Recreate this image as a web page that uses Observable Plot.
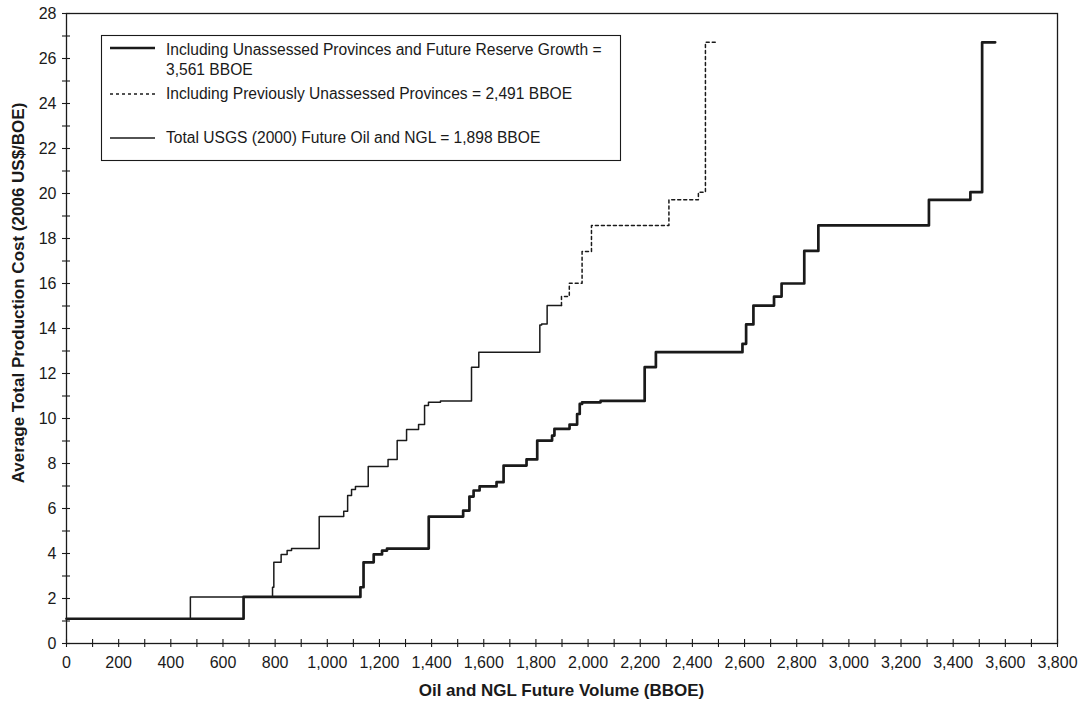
<!DOCTYPE html>
<html>
<head>
<meta charset="utf-8">
<script src="https://cdn.jsdelivr.net/npm/d3@7"></script>
<script src="https://cdn.jsdelivr.net/npm/@observablehq/plot@0.6"></script>
<style>
  html, body { margin: 0; padding: 0; background: #fff; }
  #chart { width: 1091px; height: 706px; }
  svg { font-family: "Liberation Sans", Arial, Helvetica, sans-serif; }
</style>
</head>
<body>
<div id="chart"></div>
<script>
// ---- Data (step curves: volume breakpoints in BBOE, cost level in 2006 US$/BOE) ----
// Including Unassessed Provinces and Future Reserve Growth = 3,561 BBOE
const growthVolume = [0, 679, 1127, 1139, 1178, 1210, 1229, 1389, 1521, 1545, 1561, 1584, 1649, 1676, 1764, 1805, 1862, 1871, 1929, 1958, 1968, 1977, 2048, 2217, 2260, 2592, 2606, 2634, 2713, 2742, 2829, 2883, 3307, 3466, 3511, 3561];
const growthCost   = [1.1, 2.07, 2.5, 3.61, 3.96, 4.13, 4.22, 5.64, 5.91, 6.53, 6.8, 6.98, 7.17, 7.91, 8.18, 9.02, 9.24, 9.54, 9.73, 10.2, 10.65, 10.72, 10.78, 12.28, 12.95, 13.32, 14.18, 15.02, 15.42, 16.0, 17.45, 18.58, 19.72, 20.06, 26.72, 26.72];

// Total USGS (2000) Future Oil and NGL = 1,898 BBOE
const usgsVolume = [0, 475, 790, 795, 823, 846, 863, 969, 1063, 1078, 1093, 1108, 1157, 1233, 1268, 1304, 1350, 1373, 1388, 1434, 1553, 1581, 1815, 1822, 1843, 1898];
const usgsCost   = [1.1, 2.07, 2.5, 3.61, 3.96, 4.13, 4.22, 5.64, 5.88, 6.58, 6.84, 6.98, 7.87, 8.18, 9.02, 9.51, 9.73, 10.58, 10.72, 10.78, 12.28, 12.95, 14.16, 14.2, 15.02, 15.02];

// Including Previously Unassessed Provinces = 2,491 BBOE (continuation beyond 1,898)
const prevVolume = [1898, 1898, 1928, 1977, 2013, 2310, 2423, 2450, 2491];
const prevCost   = [15.02, 15.42, 16.01, 17.42, 18.58, 19.72, 20.06, 26.72, 26.72];

const xTickLabels = d3.range(0, 3801, 200);
const xMinorTicks = d3.range(0, 3801, 100);
const yTickLabels = d3.range(0, 29, 2);
const yMinorTicks = d3.range(0, 29, 1);

const legendLabels = [
  ["Including Unassessed Provinces and Future Reserve Growth =", "3,561 BBOE"],
  ["Including Previously Unassessed Provinces = 2,491 BBOE"],
  ["Total USGS (2000) Future Oil and NGL = 1,898 BBOE"]
];

const rows = (xs, ys) => xs.map((x, i) => ({x, y: ys[i]}));
const growth = rows(growthVolume, growthCost);
const usgs = rows(usgsVolume, usgsCost);
const prev = rows(prevVolume, prevCost);

const ink = "#1a1a1a";
const W = 1091, H = 706;
const mL = 66, mR = 34, mT = 13, mB = 63;

const plot = Plot.plot({
  width: W,
  height: H,
  marginLeft: mL,
  marginRight: mR,
  marginTop: mT,
  marginBottom: mB,
  style: {fontFamily: '"Liberation Sans", Arial, Helvetica, sans-serif', color: ink, background: "#fff"},
  x: {domain: [0, 3800], label: null},
  y: {domain: [0, 28], label: null},
  marks: [
    Plot.axisX({ticks: xMinorTicks, tickSize: 8, dy: -4, tickFormat: () => "", stroke: ink, strokeWidth: 1.1, label: null}),
    Plot.axisY({ticks: yMinorTicks, tickSize: 8, dx: 4, tickFormat: () => "", stroke: ink, strokeWidth: 1.1, label: null}),
    Plot.axisX({ticks: xTickLabels, tickSize: 0, tickPadding: 13, tickFormat: d3.format(","), fontSize: 16, fill: ink, label: null}),
    Plot.axisY({ticks: yTickLabels, tickSize: 0, tickPadding: 10, tickFormat: d => String(d), fontSize: 16, fill: ink, label: null}),
    Plot.frame({stroke: ink, strokeWidth: 1.3}),
    Plot.line(prev, {x: "x", y: "y", curve: "step-after", stroke: ink, strokeWidth: 1.5, strokeDasharray: "3,3"}),
    Plot.line(usgs, {x: "x", y: "y", curve: "step-after", stroke: ink, strokeWidth: 1.5}),
    Plot.line(growth, {x: "x", y: "y", curve: "step-after", stroke: ink, strokeWidth: 2.7})
  ]
});

document.getElementById("chart").appendChild(plot);

const svg = d3.select(plot);
svg.append("text")
  .attr("x", (mL + (W - mR)) / 2).attr("y", 696)
  .attr("text-anchor", "middle")
  .attr("font-size", 17).attr("font-weight", "bold").attr("fill", ink)
  .text("Oil and NGL Future Volume (BBOE)");
svg.append("text")
  .attr("transform", `translate(24,293) rotate(-90)`)
  .attr("text-anchor", "middle")
  .attr("font-size", 17).attr("font-weight", "bold").attr("fill", ink)
  .text("Average Total Production Cost (2006 US$/BOE)");

const lg = svg.append("g").attr("text-anchor", "start");
lg.append("rect").attr("x", 101.5).attr("y", 35.5).attr("width", 519).attr("height", 125)
  .attr("fill", "#fff").attr("stroke", ink).attr("stroke-width", 1.1);
const legendItems = [
  {y: 48, w: 2.7, dash: null, lines: legendLabels[0], ty: 55},
  {y: 94, w: 1.5, dash: "3,3", lines: legendLabels[1], ty: 99},
  {y: 138, w: 1.5, dash: null, lines: legendLabels[2], ty: 143}
];
for (const it of legendItems) {
  const ln = lg.append("line").attr("x1", 110).attr("x2", 155).attr("y1", it.y).attr("y2", it.y)
    .attr("stroke", ink).attr("stroke-width", it.w);
  if (it.dash) ln.attr("stroke-dasharray", it.dash);
  it.lines.forEach((t, i) => {
    lg.append("text").attr("x", 166).attr("y", it.ty + i * 20)
      .attr("text-anchor", "start")
      .attr("font-size", 15.6).attr("fill", ink).text(t);
  });
}
</script>
</body>
</html>
